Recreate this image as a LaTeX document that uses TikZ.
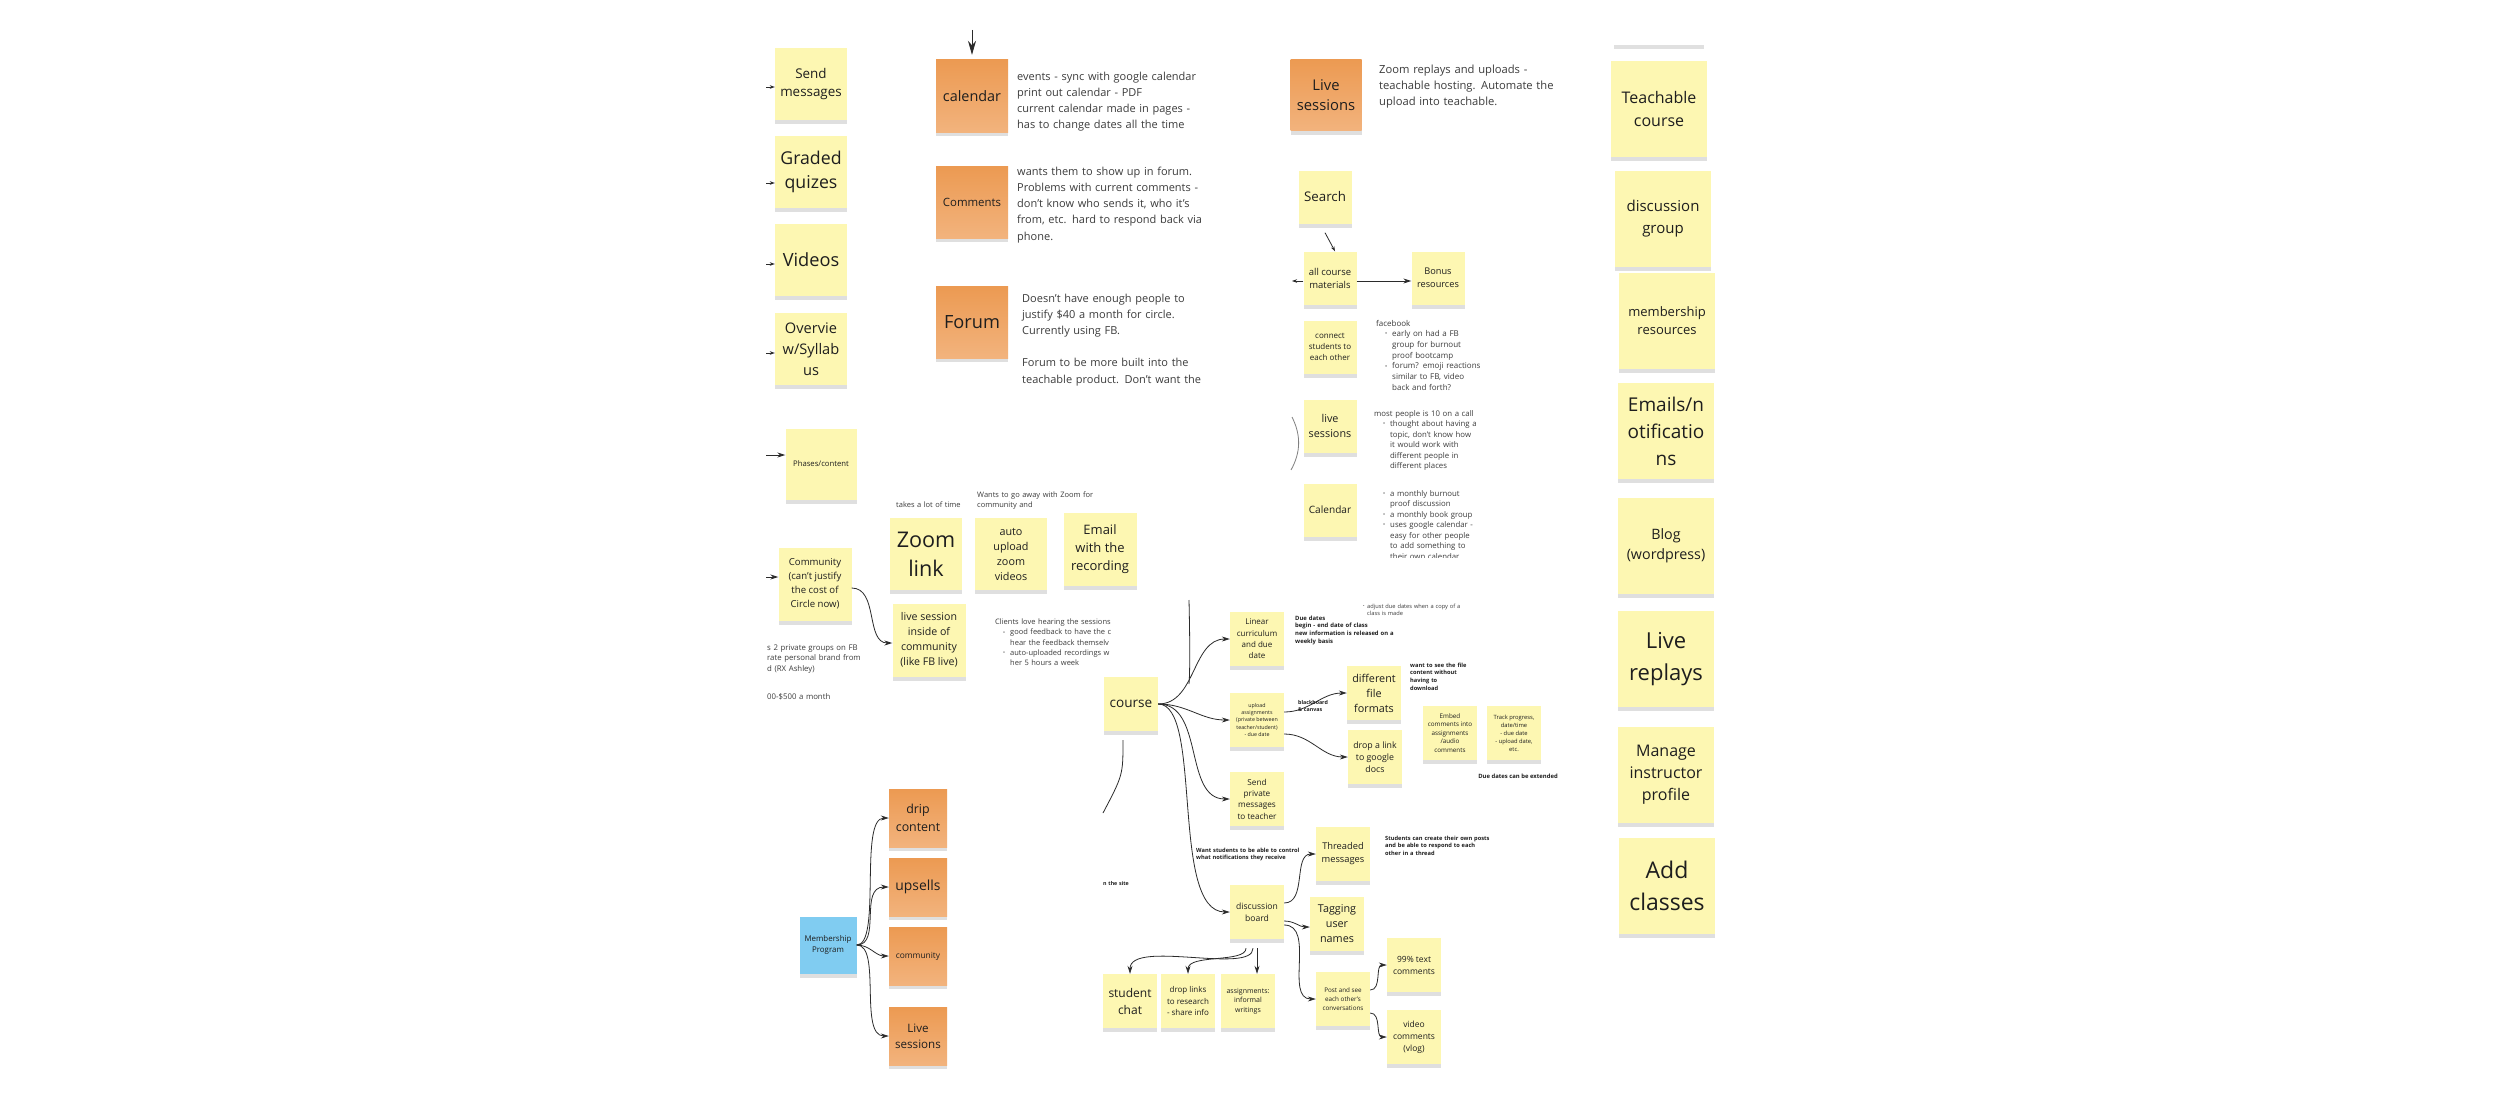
\documentclass[tikz,border=0pt]{standalone}
\usepackage{fontspec}
\setmainfont{Open Sans}
\usetikzlibrary{arrows.meta,shadows}

\definecolor{noteyel}{HTML}{FDF7B2}
\definecolor{orgtop}{HTML}{EC9A52}
\definecolor{orgbot}{HTML}{F2B37D}
\definecolor{noteblue}{HTML}{80CCF1}
\definecolor{inkdark}{HTML}{1E1E1E}
\definecolor{inkgray}{HTML}{3C3C3C}
\definecolor{wirec}{HTML}{2B2B2B}

\newcommand{\fs}[2]{\fontsize{#1}{#2}\selectfont}
\newcommand{\blt}[1][7pt]{\makebox[#1][l]{\raisebox{.1em}{\scalebox{.7}{•}}}}

\begin{document}
\begin{tikzpicture}[x=1pt,y=-1pt,
	stick/.style={align=center,inner sep=1pt,text=inkdark,
		drop shadow={shadow xshift=0pt,shadow yshift=-4pt,opacity=.25}},
	yel/.style={stick,fill=noteyel,minimum size=#1},
	orng/.style={stick,top color=orgtop,bottom color=orgbot,minimum size=#1},
	blu/.style={stick,fill=noteblue,minimum size=#1},
	memo/.style={align=left,text width=230pt,inner sep=0pt,text=inkgray,anchor=base west},
	wire/.style={draw=wirec,line width=.8pt,-{Stealth[length=8pt,width=5pt]}},
	stub/.style={draw=wirec,line width=.8pt,-{Stealth[length=5pt,width=3.5pt]}},
	plain/.style={draw=wirec,line width=.8pt}]
	\useasboundingbox (0,0) rectangle (2500,1116);
	\fill[white] (0,0) rectangle (2500,1116);

	% left column
	\node[yel=72pt,font=\fs{13.4}{18}] (sendmsg) at (811,84) {Send\\messages};
	\node[yel=72pt,font=\fs{17.7}{24}] (graded) at (811,172) {Graded\\quizes};
	\node[yel=72pt,font=\fs{18.2}{24}] (videos) at (811,260) {Videos};
	\node[yel=72pt,font=\fs{14.6}{21}] (overview) at (811,349) {Overvie\\w/Syllab\\us};
	\node[yel=71pt,font=\fs{7.7}{10}] (phases) at (821,464) {Phases/content};
	\node[yel=73pt,font=\fs{9.6}{14}] (commun) at (815,584) {Community\\(can't justify\\the cost of\\Circle now)};
	\coordinate (sm) at (766,87);
	\coordinate (gq) at (766,183);
	\coordinate (vd) at (766,264);
	\coordinate (ov) at (766,353);
	\coordinate (ph) at (766,455);
	\coordinate (cm) at (766,577);
	\draw[stub] (sm) -- ([yshift=-3pt]sendmsg.west);
	\draw[stub] (gq) -- ([yshift=-11pt]graded.west);
	\draw[stub] (vd) -- ([yshift=-4pt]videos.west);
	\draw[stub] (ov) -- ([yshift=-4pt]overview.west);
	\draw[wire] (ph) -- ([yshift=9pt]phases.west);
	\draw[wire] (cm) -- ([yshift=7pt]commun.west);

	% calendar, comments, forum
	\node[orng=72pt,font=\fs{14.4}{19}] (calendar) at (972,96) {calendar};
	\node[orng=72pt,font=\fs{11.4}{15}] (comments) at (972,202) {Comments};
	\node[orng=72pt,font=\fs{18.2}{24}] (forum) at (972,322) {Forum};
	\coordinate (calsrc) at (972,30);
	\draw[wire,-{Stealth[length=14pt,width=8pt]}] (calsrc) -- ([yshift=5pt]calendar.north);
	\node[memo,font=\fs{11}{16}] (calnote) at (1017,81) {events - sync with google calendar\\print out calendar - PDF\\current calendar made in pages -\\has to change dates all the time};
	\node[memo,font=\fs{11}{16.3}] (comnote) at (1017,175) {wants them to show up in forum.\\Problems with current comments -\\don't know who sends it, who it's\\from, etc. hard to respond back via\\phone.};
	\node[memo,font=\fs{11}{16.25}] (forumnote) at (1022,302) {Doesn't have enough people to\\justify \$40 a month for circle.\\Currently using FB.\\[16pt]Forum to be more built into the\\teachable product. Don't want the};

	% live sessions and search column
	\node[orng=71pt,font=\fs{14.8}{20}] (livesorg) at (1326,95) {Live\\sessions};
	\node[memo,font=\fs{11.2}{16}] (livenote) at (1379,74) {Zoom replays and uploads -\\teachable hosting. Automate the\\upload into teachable.};
	\node[yel=53pt,font=\fs{13.3}{18}] (search) at (1325,197) {Search};
	\node[yel=53pt,font=\fs{9.5}{13}] (allmat) at (1330,278) {all course\\materials};
	\node[yel=53pt,font=\fs{9.2}{13}] (bonus) at (1438,278) {Bonus\\resources};
	\node[yel=53pt,font=\fs{8}{11}] (connect) at (1330,347) {connect\\students to\\each other};
	\node[yel=53pt,font=\fs{10.8}{15}] (livesm) at (1330,426) {live\\sessions};
	\node[yel=53pt,font=\fs{10.1}{14}] (calsm) at (1330,510) {Calendar};
	\coordinate (ml) at (1292,281);
	\draw[stub] ([yshift=-9pt]search.south) -- ([xshift=5pt]allmat.north);
	\draw[wire] ([yshift=-3pt]allmat.east) -- ([yshift=-3pt]bonus.west);
	\draw[stub] ([yshift=-3pt]allmat.west) -- (ml);
	\coordinate (arcA) at (1292,417);
	\coordinate (arcB) at (1291,470);
	\draw[draw=gray,line width=.8pt] (arcA) .. controls (1301,435) and (1301,452) .. (arcB);
	\node[memo,font=\fs{8}{10.7}] (fbnote) at (1376,326) {facebook\\
		\hspace*{9pt}\blt early on had a FB\\ \hspace*{16pt}group for burnout\\ \hspace*{16pt}proof bootcamp\\
		\hspace*{9pt}\blt forum? emoji reactions\\ \hspace*{16pt}similar to FB, video\\ \hspace*{16pt}back and forth?};
	\node[memo,font=\fs{7.8}{10.5}] (callnote) at (1374,416) {most people is 10 on a call\\
		\hspace*{9pt}\blt thought about having a\\ \hspace*{16pt}topic, don't know how\\ \hspace*{16pt}it would work with\\
		\hspace*{16pt}different people in\\ \hspace*{16pt}different places};
	\begin{scope}
		\clip (1370,480) rectangle (1480,557);
		\node[memo,font=\fs{7.8}{10.5}] (calnote2) at (1374,496) {\hspace*{9pt}\blt a monthly burnout\\ \hspace*{16pt}proof discussion\\
			\hspace*{9pt}\blt a monthly book group\\ \hspace*{9pt}\blt uses google calendar -\\
			\hspace*{16pt}easy for other people\\ \hspace*{16pt}to add something to\\ \hspace*{16pt}their own calendar};
	\end{scope}

	% right column
	\fill[black,opacity=.12] (1614,45) rectangle (1704,49);
	\node[yel=96pt,font=\fs{16}{23}] (teachable) at (1659,109) {Teachable\\course};
	\node[yel=96pt,font=\fs{15}{22}] (discgroup) at (1663,219) {discussion\\group};
	\node[yel=96pt,font=\fs{13}{18}] (memres) at (1667,321) {membership\\resources};
	\node[yel=96pt,font=\fs{19}{27}] (emails) at (1666,431) {Emails/n\\otificatio\\ns};
	\node[yel=96pt,font=\fs{14.3}{20}] (blog) at (1666,546) {Blog\\(wordpress)};
	\node[yel=96pt,font=\fs{22}{32}] (livereplays) at (1666,659) {Live\\replays};
	\node[yel=96pt,font=\fs{16}{22}] (manage) at (1666,775) {Manage\\instructor\\profile};
	\node[yel=96pt,font=\fs{23}{32}] (addclasses) at (1667,886) {Add\\classes};

	% zoom notes
	\node[memo,font=\fs{7.5}{10}] (takestime) at (896,507.5) {takes a lot of time};
	\node[memo,font=\fs{7.5}{10}] (goaway) at (977,497.5) {Wants to go away with Zoom for\\community and};
	\node[yel=72pt,font=\fs{21.6}{29}] (zoomlink) at (926,554) {Zoom\\link};
	\node[yel=72pt,font=\fs{10.8}{15}] (autoupload) at (1011,554) {auto\\upload\\zoom\\videos};
	\node[yel=73pt,font=\fs{13}{18}] (emailrec) at (1100,549) {Email\\with the\\recording};
	\node[yel=73pt,font=\fs{10.6}{15}] (livesess) at (929,640) {live session\\inside of\\community\\(like FB live)};
	\draw[wire] ([yshift=-4pt]commun.east) to[out=0,in=180] ([yshift=-3pt]livesess.west);
	\node[memo,font=\fs{7.5}{10.3}] (clients) at (995,624.5) {Clients love hearing the sessions\\
		\hspace*{8pt}\blt good feedback to have the c\\ \hspace*{15pt}hear the feedback themselv\\
		\hspace*{8pt}\blt auto-uploaded recordings w\\ \hspace*{15pt}her 5 hours a week};
	\node[memo,font=\fs{7.8}{10.4}] (fbgroups) at (767,650.5) {s 2 private groups on FB\\rate personal brand from\\d (RX Ashley)};
	\node[memo,font=\fs{7.8}{10.4}] (price) at (767,699.5) {00-\$500 a month};

	% course tree
	\node[yel=54pt,font=\fs{13.6}{18}] (course) at (1131,704) {course};
	\node[yel=54pt,font=\fs{8}{11.3}] (linear) at (1257,639) {Linear\\curriculum\\and due\\date};
	\node[yel=54pt,font=\fs{5.3}{7.2}] (upload) at (1257,720) {upload\\assignments\\(private between\\teacher/student)\\- due date};
	\node[yel=54pt,font=\fs{8.2}{11.3}] (sendpriv) at (1257,799) {Send\\private\\messages\\to teacher};
	\node[yel=54pt,font=\fs{8.6}{12}] (discboard) at (1257,912) {discussion\\board};
	\node[yel=54pt,font=\fs{10.8}{15}] (diffformats) at (1374,693) {different\\file\\formats};
	\node[yel=54pt,font=\fs{8.8}{12}] (droplink) at (1375,757) {drop a link\\to google\\docs};
	\node[yel=54pt,font=\fs{6.3}{8.6}] (embed) at (1450,733) {Embed\\comments into\\assignments\\/audio\\comments};
	\node[yel=54pt,font=\fs{5.8}{8}] (track) at (1514,733) {Track progress,\\date/time\\- due date\\- upload date,\\etc.};
	\node[yel=54pt,font=\fs{9.3}{13}] (threaded) at (1343,854) {Threaded\\messages};
	\node[yel=54pt,font=\fs{10.8}{15}] (tagging) at (1337,924) {Tagging\\user\\names};
	\node[yel=54pt,font=\fs{6.3}{8.8}] (postsee) at (1343,999) {Post and see\\each other's\\conversations};
	\node[yel=54pt,font=\fs{8.5}{12}] (ninetynine) at (1414,965) {99\% text\\comments};
	\node[yel=54pt,font=\fs{8.5}{12}] (vlog) at (1414,1037) {video\\comments\\(vlog)};
	\node[yel=54pt,font=\fs{12}{17}] (studentchat) at (1130,1001) {student\\chat};
	\node[yel=54pt,font=\fs{8}{11.3}] (droplinks) at (1188,1001) {drop links\\to research\\- share info};
	\node[yel=54pt,font=\fs{7}{9.7}] (informal) at (1248,1001) {assignments:\\informal\\writings};
	\coordinate (crsup) at (1189,600);
	\coordinate (crsdnA) at (1123,740);
	\coordinate (crsdnB) at (1103,813);
	\draw[plain] (crsup) .. controls (1190,645) and (1190,670) .. (1189,684);
	\draw[plain] (crsdnA) .. controls (1123,775) .. (crsdnB);
	\draw[wire] (course.east) to[out=0,in=180] (linear.west);
	\draw[wire] (course.east) to[out=0,in=180] (upload.west);
	\draw[wire] (course.east) to[out=0,in=180] (sendpriv.west);
	\draw[wire] (course.east) .. controls +(45,0) and +(-60,0) .. (discboard.west);
	\draw[wire] ([yshift=8pt]upload.east) to[out=0,in=180] (diffformats.west);
	\draw[wire] ([yshift=-14pt]upload.east) to[out=0,in=180] (droplink.west);
	\draw[wire] ([yshift=9pt]discboard.east) to[out=0,in=180] (threaded.west);
	\draw[wire] ([yshift=-9pt]discboard.east) to[out=0,in=180] ([yshift=-3pt]tagging.west);
	\draw[wire] ([yshift=-13pt]discboard.east) to[out=0,in=180] (postsee.west);
	\draw[wire] ([yshift=9pt]postsee.east) to[out=0,in=180] (ninetynine.west);
	\draw[wire] ([yshift=-14pt]postsee.east) to[out=0,in=180] (vlog.west);
	\draw[wire] ([xshift=-11pt,yshift=-9pt]discboard.south) .. controls +(0,15) and +(0,-20) .. (droplinks.north);
	\draw[wire] ([xshift=-4pt,yshift=-9pt]discboard.south) .. controls +(0,27) and +(0,-35) .. (studentchat.north);
	\draw[wire] ([yshift=-9pt]discboard.south) -- ([xshift=9pt]informal.north);
	\node[memo,font=\fs{5.9}{7.7}\bfseries,text=inkdark] (duedates) at (1295,620) {Due dates\\begin - end date of class\\new information is released on a\\weekly basis};
	\node[memo,font=\fs{5.7}{7.3}] (adjust) at (1363,608) {\blt[4pt]adjust due dates when a copy of a\\ \hspace*{4pt}class is made};
	\node[memo,font=\fs{5.3}{7}\bfseries,text=inkdark] (lms) at (1298,704) {blackboard\\\& canvas};
	\node[memo,font=\fs{5.7}{7.7}\bfseries,text=inkdark] (preview) at (1410,667) {want to see the file\\content without\\having to\\download};
	\node[font=\fs{5.9}{7.5}\bfseries,text=inkdark,inner sep=0pt] (extend) at (1518,776) {Due dates can be extended};
	\node[memo,font=\fs{5.7}{7.7}\bfseries,text=inkdark] (notify) at (1196,852) {Want students to be able to control\\what notifications they receive};
	\node[memo,font=\fs{5.7}{7.5}\bfseries,text=inkdark] (threadnote) at (1385,840) {Students can create their own posts\\and be able to respond to each\\other in a thread};
	\node[memo,font=\fs{5.3}{7}\bfseries,text=inkdark] (onsite) at (1103,885) {n the site};

	% membership program
	\node[blu=57pt,font=\fs{7.9}{11}] (member) at (828,945) {Membership\\Program};
	\node[orng=58pt,font=\fs{12.4}{18}] (drip) at (918,818) {drip\\content};
	\node[orng=58pt,font=\fs{13.9}{18}] (upsells) at (918,887) {upsells};
	\node[orng=58pt,font=\fs{8.4}{12}] (commorg) at (918,956) {community};
	\node[orng=58pt,font=\fs{11.6}{16}] (livesorg2) at (918,1036) {Live\\sessions};
	\draw[wire] (member.east) .. controls +(25,0) and +(-30,0) .. (drip.west);
	\draw[wire] (member.east) .. controls +(25,0) and +(-30,0) .. (upsells.west);
	\draw[wire] (member.east) to[out=0,in=180] (commorg.west);
	\draw[wire] (member.east) .. controls +(25,0) and +(-30,0) .. (livesorg2.west);
\end{tikzpicture}
\end{document}
